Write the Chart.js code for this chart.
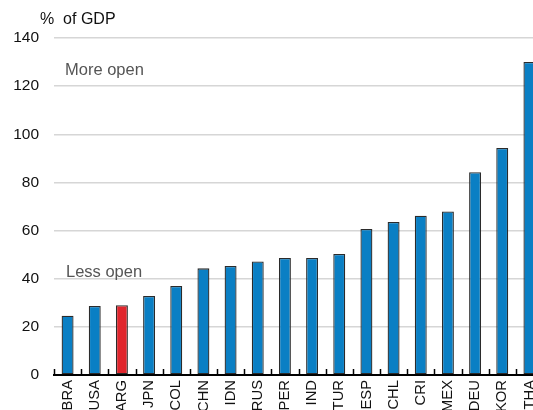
<!DOCTYPE html>
<html>
<head>
<meta charset="utf-8">
<script src="https://cdn.jsdelivr.net/npm/chart.js@4"></script>
<style>
  html, body { margin: 0; padding: 0; background: #fff; overflow: hidden; width: 533px; height: 410px; }
  #clip { position: relative; width: 533px; height: 410px; overflow: hidden; }
  canvas { display: block; position: absolute; left: 0; top: 0; }
</style>
</head>
<body>
<div id="clip"><canvas id="openChart" width="543" height="424"></canvas></div>
<script>
// trade openness, % of GDP
const countries = ['BRA','USA','ARG','JPN','COL','CHN','IDN','RUS','PER','IND','TUR','ESP','CHL','CRI','MEX','DEU','KOR','THA'];
const openness = [24.6, 28.7, 29.0, 32.8, 37.0, 44.3, 45.3, 47.2, 48.6, 48.6, 50.3, 60.7, 63.6, 66.2, 67.9, 84.2, 94.3, 130.0];
const highlight = 'ARG';
const yTicks = [0, 20, 40, 60, 80, 100, 120, 140];

const FONT = 'Liberation Sans, Arial, sans-serif';

// small tick marks pointing up from the x axis + annotation texts
const extras = {
  id: 'extras',
  afterDraw(chart) {
    const { ctx, chartArea } = chart;
    const x = chart.scales.x, y = chart.scales.y;
    const n = countries.length;
    const step = (chartArea.right - chartArea.left) / n;
    ctx.save();
    ctx.strokeStyle = '#000';
    ctx.lineWidth = 1.5;
    for (let i = 0; i <= n; i++) {
      const px = Math.round(x.getPixelForValue(0) - step / 2 + i * step) + 0.5;
      ctx.beginPath();
      ctx.moveTo(px, chartArea.bottom);
      ctx.lineTo(px, chartArea.bottom - 6);
      ctx.stroke();
    }
    ctx.textBaseline = 'middle';
    ctx.font = '16px ' + FONT;
    ctx.fillStyle = '#111';
    ctx.fillText('%  of GDP', 40, 20);
    ctx.font = '16.5px ' + FONT;
    ctx.fillStyle = '#555';
    ctx.fillText('More open', 65, y.getPixelForValue(126.5));
    ctx.fillText('Less open', 66, y.getPixelForValue(42.7));
    ctx.restore();
  }
};

new Chart(document.getElementById('openChart'), {
  type: 'bar',
  data: {
    labels: countries,
    datasets: [{
      data: openness,
      backgroundColor: countries.map(c => c === highlight ? '#e1262d' : '#0a7fc4'),
      borderColor: '#2b2b2b',
      borderWidth: 1.3,
      borderSkipped: false,
      categoryPercentage: 1,
      barPercentage: 0.44
    }]
  },
  options: {
    responsive: false,
    animation: false,
    devicePixelRatio: 1,
    layout: { padding: { top: 38, right: 0, left: 0, bottom: 0 } },
    plugins: { legend: { display: false }, tooltip: { enabled: false } },
    scales: {
      x: {
        grid: { display: false, drawTicks: false },
        border: { display: true, color: '#000', width: 2 },
        ticks: {
          color: '#111', font: { family: FONT, size: 14.8 },
          minRotation: 90, maxRotation: 90, padding: 5, autoSkip: false
        },
        afterFit(s) { s.height = 49; s.paddingLeft = 0; s.paddingRight = 0; }
      },
      y: {
        min: 0, max: 140,
        afterBuildTicks(s) { s.ticks = yTicks.map(v => ({ value: v })); },
        grid: { color: '#d6d6d6', lineWidth: 1.5, drawTicks: false },
        border: { display: false },
        ticks: { color: '#111', font: { family: FONT, size: 15.5 }, padding: 15 },
        afterFit(s) { s.width = 54; }
      }
    }
  },
  plugins: [extras]
});
</script>
</body>
</html>
